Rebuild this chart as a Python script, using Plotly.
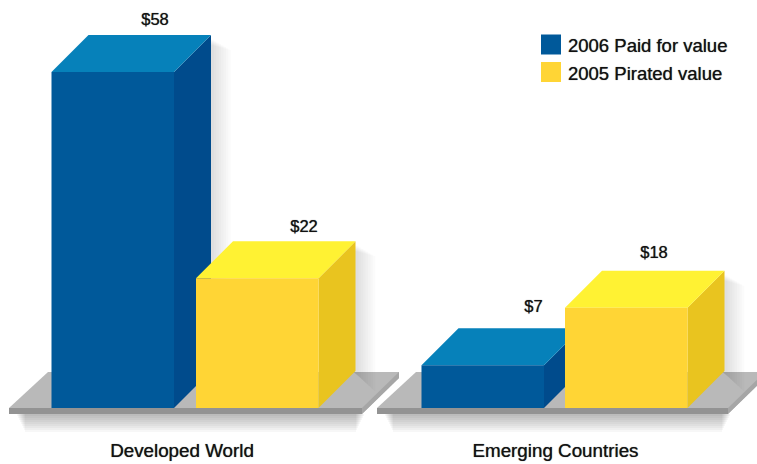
import plotly.graph_objects as go

# ---- data ----
categories = ["Developed World", "Emerging Countries"]
series_names = ["2006 Paid for value", "2005 Pirated value"]
paid_values = [58, 7.4]
pirated_values = [22.4, 17.3]
paid_labels = ["$58", "$7"]
pirated_labels = ["$22", "$18"]

# ---- layout constants (page pixels) ----
W, H = 757, 464
BASE_PX = 408
PX_PER_UNIT = 336 / 58
DX, DY = 37, 37
BAR_W = 122.5
paid_left = [51.5, 421.5]
pirated_left = [196, 565]
floor_left = [9, 377]
floor_right = [362, 728]
cat_x = [182, 555.5]
paid_label_x = [155, 533.5]
pirated_label_x = [304, 654]
paid_label_gap = [14, 20]
pirated_label_gap = [13, 17]

BLUE = dict(front="#00599a", side="#004b8c", top="#0681ba")
YELLOW = dict(front="#ffd535", side="#e9c41f", top="#fff233")
FONT = "Liberation Sans, Arial, sans-serif"
TEXT = dict(family=FONT, color="#111111", shadow="0 0 0.8px rgba(0,0,0,0.75)")


def py(p):
    return (BASE_PX - p) / PX_PER_UNIT


fig = go.Figure()


def poly(pts, color, opacity=1.0):
    fig.add_trace(go.Scatter(
        x=[p[0] for p in pts] + [pts[0][0]],
        y=[py(p[1]) for p in pts] + [py(pts[0][1])],
        mode="lines", fill="toself", fillcolor=color, opacity=opacity,
        line=dict(width=0), hoverinfo="skip", showlegend=False))


def floor_shadow(x0, x1):
    for i in range(9):
        poly([(x0 + 8 + i, 414), (x1 - i + 2, 414),
              (x1 - i + 2, 416 + 2 * i), (x0 + 8 + i, 416 + 2 * i)], "#000000", 0.03)


def bar_shadow(x, top):
    for i in range(8):
        e = 3 + 2.4 * i
        poly([(x + BAR_W + DX - 2, top - DY + 3 + e * 0.3),
              (x + BAR_W + DX + e, top - DY + 3 + e * 0.6),
              (x + BAR_W + DX + e, BASE_PX - 36 + e),
              (x + BAR_W + DX - 2, BASE_PX - 36)], "#000000", 0.016)


def floor(x0, x1):
    floor_shadow(x0, x1)
    poly([(x0, BASE_PX), (x0 + 39, BASE_PX - 36), (x1 + 37, BASE_PX - 36),
          (x1 + 37, BASE_PX - 30), (x1, BASE_PX + 6), (x0, BASE_PX + 6)], "#b9b9b9")
    poly([(x1, BASE_PX), (x1 + 37, BASE_PX - 36), (x1 + 37, BASE_PX - 30), (x1, BASE_PX + 6)], "#a6a6a6")
    poly([(x0, BASE_PX), (x1, BASE_PX), (x1, BASE_PX + 6), (x0, BASE_PX + 6)], "#939393")


def bar3d(x, value, c):
    top = BASE_PX - value * PX_PER_UNIT
    r = x + BAR_W
    poly([(r, BASE_PX), (r + DX, BASE_PX - DY), (r + DX, top - DY), (r, top)], c["side"])
    poly([(x, top), (x + DX, top - DY), (r + DX, top - DY), (r, top)], c["top"])
    poly([(x, BASE_PX), (r, BASE_PX), (r, top), (x, top)], c["front"])


for a, b in zip(floor_left, floor_right):
    floor(a, b)

for i in range(2):
    bar_shadow(paid_left[i], BASE_PX - paid_values[i] * PX_PER_UNIT)
    bar_shadow(pirated_left[i], BASE_PX - pirated_values[i] * PX_PER_UNIT)

for i in range(2):
    bar3d(paid_left[i], paid_values[i], BLUE)
    bar3d(pirated_left[i], pirated_values[i], YELLOW)

# value labels
lab_x, lab_y, lab_t = [], [], []
for i in range(2):
    lab_x += [paid_label_x[i], pirated_label_x[i]]
    lab_y += [paid_values[i] + (DY + paid_label_gap[i]) / PX_PER_UNIT,
              pirated_values[i] + (DY + pirated_label_gap[i]) / PX_PER_UNIT]
    lab_t += [paid_labels[i], pirated_labels[i]]
fig.add_trace(go.Scatter(x=lab_x, y=lab_y, text=lab_t, mode="text", textposition="middle center",
                         textfont=dict(size=16.5, **TEXT),
                         hoverinfo="skip", showlegend=False))

# category labels
fig.add_trace(go.Scatter(x=cat_x, y=[py(452)] * 2, text=categories, mode="text",
                         textposition="middle center",
                         textfont=dict(size=18.8, **TEXT),
                         hoverinfo="skip", showlegend=False))

# legend
fig.add_trace(go.Scatter(x=[551, 551], y=[py(44.5), py(72)], mode="markers",
                         marker=dict(symbol="square", size=20, color=[BLUE["front"], YELLOW["front"]], line=dict(width=0)),
                         hoverinfo="skip", showlegend=False))
fig.add_trace(go.Scatter(x=[568, 568], y=[py(47), py(75)], text=series_names, mode="text",
                         textposition="middle right",
                         textfont=dict(size=18.5, **TEXT),
                         hoverinfo="skip", showlegend=False))

fig.update_layout(
    width=W, height=H, margin=dict(l=0, r=0, t=0, b=0),
    paper_bgcolor="white", plot_bgcolor="white", showlegend=False,
    xaxis=dict(range=[0, W], visible=False, fixedrange=True),
    yaxis=dict(range=[py(H), py(0)], visible=False, fixedrange=True),
)
fig.write_html("out.html", config=dict(displayModeBar=False),
               post_script="document.body.style.margin='0';document.documentElement.style.overflow='hidden';")
